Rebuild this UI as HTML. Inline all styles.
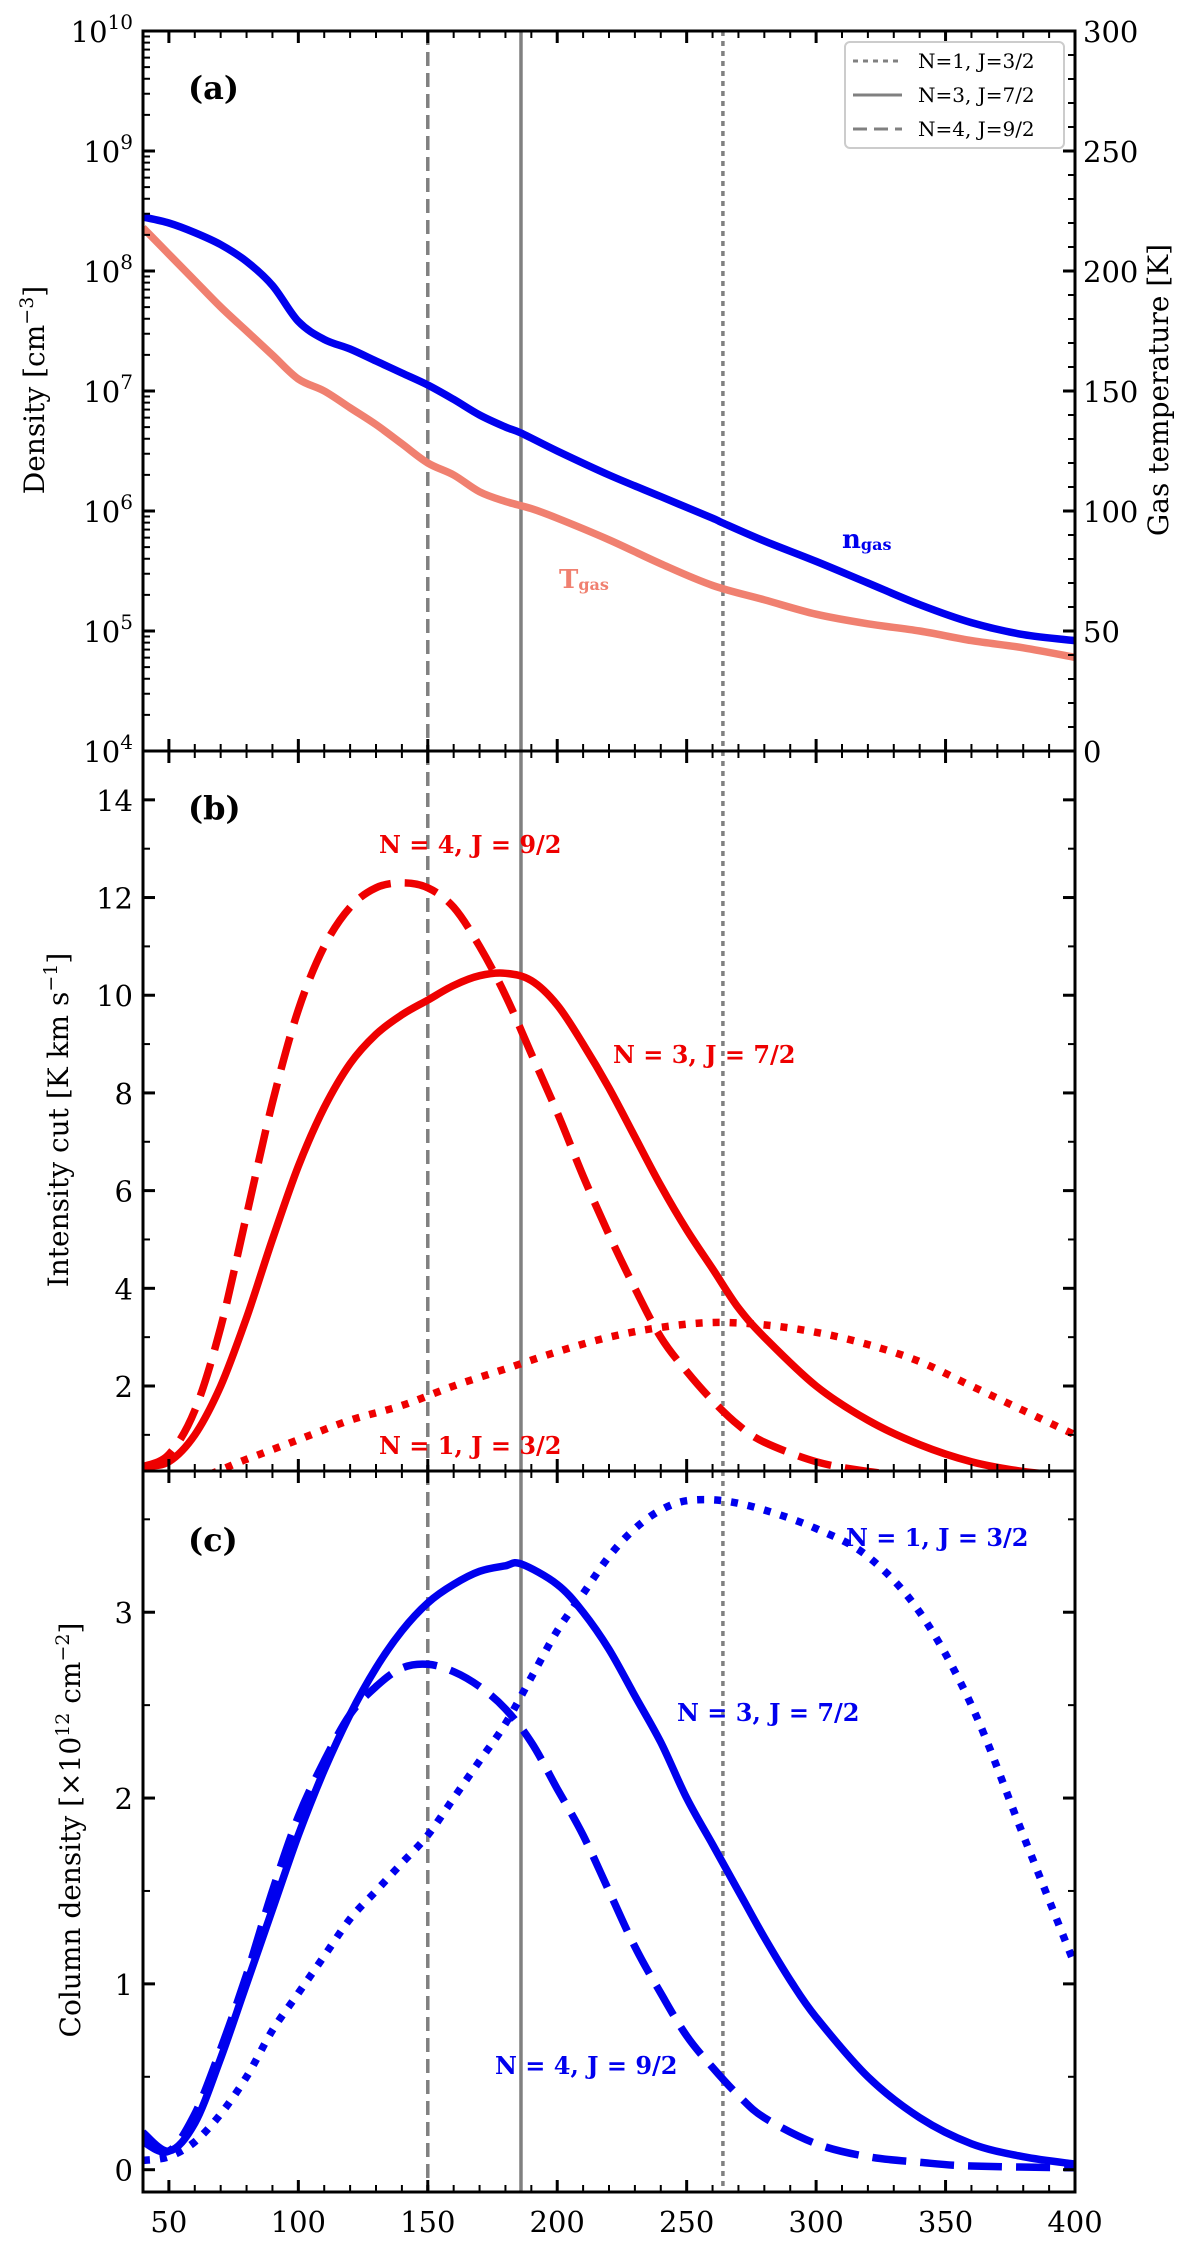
<!DOCTYPE html>
<html><head><meta charset="utf-8"><style>
html,body{margin:0;padding:0;background:#fff;}
svg{display:block;font-family:"DejaVu Serif","Liberation Serif",serif;}
</style></head><body>
<svg id="fig" width="1200" height="2246" viewBox="0 0 1200 2246" xmlns="http://www.w3.org/2000/svg"></svg>
<script>
// ---- data ----
const xA = [40,50,60,70,80,90,100,110,120,130,140,150,160,170,180,186,200,220,240,260,264,280,300,320,340,360,380,400];
const nGasLog = [8.45,8.4,8.32,8.22,8.08,7.88,7.58,7.43,7.35,7.25,7.15,7.05,6.93,6.8,6.7,6.65,6.5,6.3,6.12,5.94,5.9,5.75,5.58,5.4,5.22,5.07,4.97,4.92];
const xT = [40,50,60,70,80,90,100,110,120,130,140,150,160,170,180,190,200,220,240,260,280,300,320,340,360,380,400];
const tGas = [218,207,196,185,175,165,155,150,143,136,128,120,115,108,104,101,97,88,78,69,63,57,53,50,46,43,39];

const xB4 = [40,50,60,70,80,90,100,110,120,130,140,150,160,170,180,190,200,210,220,230,240,250,260,270,280,300,320,340,360,400];
const iN4 = [0.35,0.6,1.5,3.2,5.5,7.8,9.7,11.0,11.8,12.2,12.3,12.2,11.8,11.0,10.0,8.8,7.6,6.3,5.1,4.0,3.0,2.3,1.7,1.2,0.85,0.45,0.25,0.15,0.1,0.1];
const xB3 = [40,50,60,70,80,90,100,110,120,130,140,150,160,170,180,190,200,210,220,230,240,250,260,270,280,300,320,340,360,380,400];
const iN3 = [0.35,0.45,1.0,2.0,3.4,5.0,6.5,7.7,8.6,9.2,9.6,9.9,10.2,10.4,10.45,10.3,9.8,9.0,8.1,7.1,6.1,5.2,4.4,3.6,3.0,2.0,1.3,0.8,0.45,0.25,0.15];
const xB1 = [40,60,80,100,120,140,160,180,200,220,240,260,280,300,320,340,360,380,400];
const iN1 = [0.0,0.1,0.5,0.9,1.3,1.6,2.0,2.35,2.7,3.0,3.2,3.3,3.25,3.1,2.85,2.5,2.0,1.5,1.0];

const xC3 = [40,50,60,70,80,90,100,110,120,130,140,150,160,170,180,186,200,210,220,230,240,250,260,270,280,290,300,320,340,360,380,400];
const cN3 = [0.2,0.1,0.25,0.6,1.0,1.4,1.8,2.15,2.45,2.7,2.9,3.05,3.15,3.22,3.25,3.26,3.15,3.0,2.8,2.55,2.3,2.0,1.75,1.5,1.25,1.02,0.82,0.5,0.28,0.14,0.07,0.03];
const xC4 = [40,50,60,70,80,90,100,110,120,130,140,150,160,170,180,190,200,210,220,230,240,250,260,270,280,300,320,340,360,400];
const cN4 = [0.15,0.1,0.3,0.65,1.05,1.5,1.9,2.2,2.45,2.6,2.7,2.72,2.68,2.6,2.48,2.3,2.05,1.8,1.5,1.2,0.95,0.72,0.55,0.4,0.28,0.14,0.07,0.04,0.02,0.01];
const xC1 = [40,50,60,70,80,90,100,110,120,130,140,150,160,170,180,190,200,210,220,230,240,250,264,280,300,320,340,360,380,400];
const cN1 = [0.05,0.07,0.15,0.3,0.5,0.75,0.95,1.15,1.35,1.5,1.65,1.8,2.0,2.2,2.4,2.65,2.9,3.1,3.3,3.45,3.55,3.6,3.6,3.55,3.45,3.3,3.0,2.5,1.8,1.1];

const vlines = [150,186,264];
const xTicks = [50,100,150,200,250,300,350,400];
const bTicks = [2,4,6,8,10,12,14];
const cTicks = [0,1,2,3];
const tTicks = [0,50,100,150,200,250,300];

// ---- layout ----
const L=143,R=1075,TA=31,BA=751,TB=751,BB=1471,TC=1471,BC=2192;
const NS="http://www.w3.org/2000/svg";
const svg=document.getElementById('fig');
function el(tag,attrs,parent){const e=document.createElementNS(NS,tag);for(const k in attrs)e.setAttribute(k,attrs[k]);(parent||svg).appendChild(e);return e;}
const X=v=>L+(v-40)/(400-40)*(R-L);
const YA=v=>BA-(v-4)/6*(BA-TA);
const YT=v=>BA-v/300*(BA-TA);
const YB=v=>BB-(v-0.26)/(15-0.26)*(BB-TB);
const YC=v=>BC-(v+0.12)/(3.76+0.12)*(BC-TC);

function smoothPath(pts){
  let d='M'+pts[0][0].toFixed(1)+' '+pts[0][1].toFixed(1);
  for(let i=0;i<pts.length-1;i++){
    const p0=pts[Math.max(0,i-1)],p1=pts[i],p2=pts[i+1],p3=pts[Math.min(pts.length-1,i+2)];
    const c1x=p1[0]+(p2[0]-p0[0])/6,c1y=p1[1]+(p2[1]-p0[1])/6;
    const c2x=p2[0]-(p3[0]-p1[0])/6,c2y=p2[1]-(p3[1]-p1[1])/6;
    d+=' C'+c1x.toFixed(1)+' '+c1y.toFixed(1)+' '+c2x.toFixed(1)+' '+c2y.toFixed(1)+' '+p2[0].toFixed(1)+' '+p2[1].toFixed(1);
  }
  return d;
}
function line(xs,ys,fx,fy,color,dash,name,top){
  const g=el('g',{'clip-path':'url(#clip'+top+')'});
  const pts=xs.map((x,i)=>[fx(x),fy(ys[i])]);
  const p=el('path',{d:smoothPath(pts),fill:'none',stroke:color,'stroke-width':7.5,'stroke-linejoin':'round','stroke-dasharray':dash||'none'},g);
  
  
}
function txt(x,y,s,attrs,name){const t=el('text',Object.assign({x:x,y:y},attrs||{}));t.innerHTML=s;return t;}

const defs=el('defs',{});
[[TA,BA],[TB,BB],[TC,BC]].forEach(([t,b])=>{const c=el('clipPath',{id:'clip'+t},defs);el('rect',{x:L,y:t,width:R-L,height:b-t},c);});

// vertical reference lines
[[TA,BA],[TB,BB],[TC,BC]].forEach(([t,b])=>{
  const dashes=['14 7','none','5 5'];
  vlines.forEach((v,i)=>{const l=el('line',{x1:X(v),x2:X(v),y1:t,y2:b,stroke:'#808080','stroke-width':3.5,'stroke-dasharray':dashes[i]});
    
    });
});

// panel a
line(xT,tGas,X,YT,'#f08070',null,'t-gas-line',TA);
line(xA,nGasLog,X,YA,'#0000ee',null,'n-gas-line',TA);
// panel b
line(xB4,iN4,X,YB,'#ee0000','34 14','intensity-n4',TB);
line(xB3,iN3,X,YB,'#ee0000',null,'intensity-n3',TB);
line(xB1,iN1,X,YB,'#ee0000','7 10','intensity-n1',TB);
// panel c
line(xC4,cN4,X,YC,'#0000ee','34 14','column-n4',TC);
line(xC3,cN3,X,YC,'#0000ee',null,'column-n3',TC);
line(xC1,cN1,X,YC,'#0000ee','7 10','column-n1',TC);

// axes frames and ticks
function tick(x1,y1,x2,y2,w){el('line',{x1:x1,y1:y1,x2:x2,y2:y2,stroke:'#000','stroke-width':w||2});}
[[TA,BA],[TB,BB],[TC,BC]].forEach(([t,b])=>{
  const r=el('rect',{x:L,y:t,width:R-L,height:b-t,fill:'none',stroke:'#000','stroke-width':3});
  
  
  for(let v=40;v<=400;v+=10){const maj=xTicks.includes(v);const len=maj?12:7;
    tick(X(v),b,X(v),b-len,maj?3:2);tick(X(v),t,X(v),t+len,maj?3:2);}
});
const fs={'font-size':29,'text-anchor':'end'};
// panel a left log
for(let d=4;d<=10;d++){
  tick(L,YA(d),L+12,YA(d),3);
  txt(L-10,YA(d)+11,'10<tspan dy="-13" font-size="20">'+d+'</tspan>',fs,'y-tick-label');
  if(d<10)for(let m=2;m<=9;m++){const y=YA(d+Math.log10(m));tick(L,y,L+7,y,2);}
}
tTicks.forEach(v=>{tick(R,YT(v),R-12,YT(v),3);txt(R+8,YT(v)+11,v,{'font-size':29},'y2-tick-label');});
for(let v=10;v<300;v+=10)if(v%50)tick(R,YT(v),R-7,YT(v),2);
// panel b
bTicks.forEach(v=>{tick(L,YB(v),L+12,YB(v),3);tick(R,YB(v),R-12,YB(v),3);txt(L-10,YB(v)+11,v,fs,'y-tick-label');});
for(let v=1;v<15;v+=2){tick(L,YB(v),L+7,YB(v),2);tick(R,YB(v),R-7,YB(v),2);}
// panel c
cTicks.forEach(v=>{tick(L,YC(v),L+12,YC(v),3);tick(R,YC(v),R-12,YC(v),3);txt(L-10,YC(v)+11,v,fs,'y-tick-label');});
for(let v=0.5;v<3.7;v+=1){tick(L,YC(v),L+7,YC(v),2);tick(R,YC(v),R-7,YC(v),2);}
xTicks.forEach(v=>txt(X(v),BC+40,v,{'font-size':29,'text-anchor':'middle'},'x-tick-label'));

// axis labels
const al={'font-size':28,'text-anchor':'middle'};
txt(0,0,'Density [cm<tspan dy="-11" font-size="19">−3</tspan><tspan dy="11">]</tspan>',Object.assign({transform:'translate(44,390) rotate(-90)'},al),'y-axis-title-density');
txt(0,0,'Gas temperature [K]',Object.assign({transform:'translate(1168,390) rotate(-90)'},al),'y2-axis-title-temperature');
txt(0,0,'Intensity cut [K km s<tspan dy="-11" font-size="19">−1</tspan><tspan dy="11">]</tspan>',Object.assign({transform:'translate(68,1120) rotate(-90)'},al),'y-axis-title-intensity');
txt(0,0,'Column density [×10<tspan dy="-11" font-size="19">12</tspan><tspan dy="11"> cm</tspan><tspan dy="-11" font-size="19">−2</tspan><tspan dy="11">]</tspan>',Object.assign({transform:'translate(80,1830) rotate(-90)'},al),'y-axis-title-column-density');

// panel letters
const bold={'font-size':32,'font-weight':'bold'};
txt(188,99,'(a)',bold,'panel-label-a');
txt(188,819,'(b)',bold,'panel-label-b');
txt(188,1551,'(c)',bold,'panel-label-c');

// curve labels
txt(842,548,'n<tspan font-size="16" dy="2">gas</tspan>',{'font-size':26,'font-weight':'bold',fill:'#0000ee'},'n-gas-label');
txt(559,588,'T<tspan font-size="16" dy="2">gas</tspan>',{'font-size':26,'font-weight':'bold',fill:'#f08070'},'t-gas-label');
const rb={'font-size':24,'font-weight':'bold',fill:'#ee0000'};
txt(379,853,'N = 4, J = 9/2',rb,'label-b-n4');
txt(613,1063,'N = 3, J = 7/2',rb,'label-b-n3');
txt(379,1454,'N = 1, J = 3/2',rb,'label-b-n1');
const bb={'font-size':24,'font-weight':'bold',fill:'#0000ee'};
txt(846,1546,'N = 1, J = 3/2',bb,'label-c-n1');
txt(677,1721,'N = 3, J = 7/2',bb,'label-c-n3');
txt(495,2074,'N = 4, J = 9/2',bb,'label-c-n4');

// legend
const lg=el('g',{});


el('rect',{x:845,y:42,width:219,height:106,rx:5,fill:'#fff','fill-opacity':0.85,stroke:'#ccc','stroke-width':2},lg);
const legNames=['N=1, J=3/2','N=3, J=7/2','N=4, J=9/2'];
const legDash=['5 5','none','14 7'];
legNames.forEach((n,i)=>{const y=61+i*34;
  el('line',{x1:853,x2:902,y1:y,y2:y,stroke:'#808080','stroke-width':3,'stroke-dasharray':legDash[i]},lg);
  const t=el('text',{x:918,y:y+7,'font-size':20},lg);t.textContent=n;
  
  
});
</script>
</body></html>
